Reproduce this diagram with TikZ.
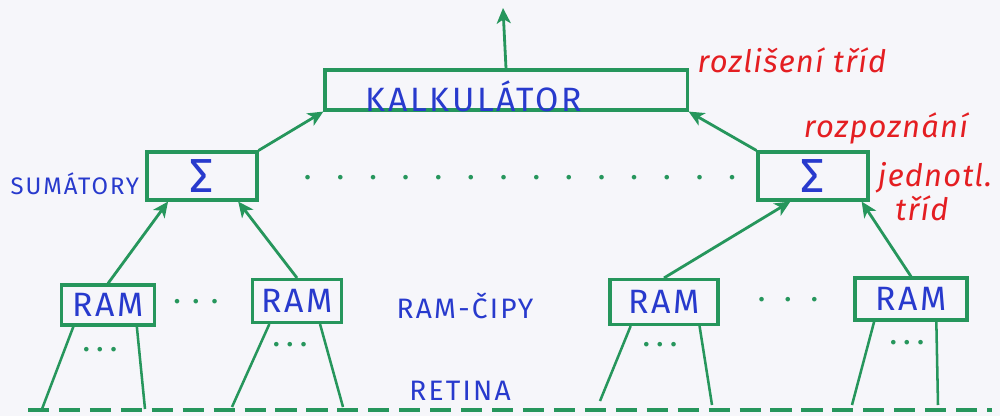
\documentclass[tikz,border=0pt]{standalone}
\usepackage{fontspec}
\setmainfont{Fira Sans}
\newfontfamily\caps[LetterSpace=8]{Fira Sans}
\newfontfamily\script[LetterSpace=4]{Fira Sans Italic}
\usetikzlibrary{calc,arrows.meta}
\definecolor{pen}{RGB}{38,150,92}
\definecolor{ink}{RGB}{40,58,205}
\definecolor{note}{RGB}{228,30,34}
\definecolor{paper}{RGB}{246,246,250}
\begin{document}
\begin{tikzpicture}[x=0.025cm,y=-0.025cm,
  box/.style={draw=pen,line width=2.2pt,inner sep=0pt},
  arr/.style={draw=pen,line width=2pt,-{Stealth[length=11pt,width=10pt,inset=3pt]}},
  wire/.style={draw=pen,line width=1.8pt},
  lbl/.style={text=ink,font=\caps\fontsize{17}{17}\selectfont},
  mid/.style={text=ink,font=\caps\fontsize{20}{20}\selectfont},
  big/.style={text=ink,font=\caps\fontsize{24}{24}\selectfont},
  sig/.style={text=ink,font=\fontsize{34}{34}\selectfont},
  rednote/.style={text=note,font=\script\fontsize{22}{22}\selectfont},
  dots/.style={text=pen,font=\bfseries\fontsize{18}{18}\selectfont}]
  % paper
  \fill[paper] (0,0) rectangle (1000,416);
  \useasboundingbox (0,0) rectangle (1000,416);

  % calculator and output
  \node[box,minimum width=9.05cm,minimum height=1cm] (kal) at (506,90) {};
  \node[big] (kaltext) at (474,96) {KALKULÁTOR};
  \coordinate (out) at (503,8);
  \draw[arr] (kal.north) -- (out);
  \node[rednote] (n1) at (792,60) {rozlišení tříd};

  % summators
  \node[box,sig,minimum width=2.75cm,minimum height=1.2cm] (s1) at (202,176) {Σ};
  \node[box,sig,minimum width=2.75cm,minimum height=1.2cm] (s2) at (813,176) {Σ};
  \node[lbl,anchor=east] (sum) at (144,184) {SUMÁTORY};
  \node[dots] (sdots) at (520,178) {.\hspace{1.05em}.\hspace{1.05em}.\hspace{1.05em}.\hspace{1.05em}.\hspace{1.05em}.\hspace{1.05em}.\hspace{1.05em}.\hspace{1.05em}.\hspace{1.05em}.\hspace{1.05em}.\hspace{1.05em}.\hspace{1.05em}.\hspace{1.05em}.};
  \node[rednote] (n2a) at (886,128) {rozpoznání};
  \node[rednote] (n2b) at (935,178) {jednotl.};
  \node[rednote] (n2c) at (922,208) {tříd};

  \draw[arr] (s1.north east) -- (kal.south west);
  \draw[arr] (s2.north west) -- (kal.south east);

  % RAM chips
  \node[box,big,minimum width=2.325cm,minimum height=1cm] (r1) at (108,305) {RAM};
  \node[box,big,minimum width=2.225cm,minimum height=1.075cm] (r2) at (297,301) {RAM};
  \node[box,big,minimum width=2.7cm,minimum height=1.125cm] (r3) at (664,302) {RAM};
  \node[box,big,minimum width=2.8cm,minimum height=1.05cm] (r4) at (911,299) {RAM};
  \node[dots] (rd1) at (196,302) {.\hspace{0.5em}.\hspace{0.5em}.};
  \node[dots] (rd2) at (788,300) {.\hspace{0.8em}.\hspace{0.8em}.};
  \node[mid] (chips) at (465,306) {RAM-ČIPY};

  \draw[arr] (r1.north) -- ($(s1.south west)!0.2!(s1.south east)$);
  \draw[arr] (r2.north) -- ($(s1.south west)!0.82!(s1.south east)$);
  \draw[arr] (r3.north) -- ($(s2.south west)!0.3!(s2.south east)$);
  \draw[arr] (r4.north) -- ($(s2.south west)!0.93!(s2.south east)$);

  % retina
  \coordinate (retL) at (28,410);
  \coordinate (retR) at (992,410);
  \draw[pen,line width=2.8pt,dash pattern=on 15pt off 7pt] (retL) -- (retR);
  \node[mid] (ret) at (460,391) {RETINA};

  \coordinate (a1) at (42,409);  \coordinate (b1) at (145,409);
  \coordinate (a2) at (232,407); \coordinate (b2) at (343,407);
  \coordinate (a3) at (600,401); \coordinate (b3) at (712,405);
  \coordinate (a4) at (852,405); \coordinate (b4) at (938,405);
  \draw[wire] ($(r1.south west)!0.14!(r1.south east)$) -- (a1);
  \draw[wire] ($(r1.south west)!0.8!(r1.south east)$) -- (b1);
  \draw[wire] ($(r2.south west)!0.2!(r2.south east)$) -- (a2);
  \draw[wire] ($(r2.south west)!0.75!(r2.south east)$) -- (b2);
  \draw[wire] ($(r3.south west)!0.2!(r3.south east)$) -- (a3);
  \draw[wire] ($(r3.south west)!0.82!(r3.south east)$) -- (b3);
  \draw[wire] ($(r4.south west)!0.18!(r4.south east)$) -- (a4);
  \draw[wire] ($(r4.south west)!0.72!(r4.south east)$) -- (b4);
  \node[dots] (w1) at (100,350) {.\hspace{0.3em}.\hspace{0.3em}.};
  \node[dots] (w2) at (290,345) {.\hspace{0.3em}.\hspace{0.3em}.};
  \node[dots] (w3) at (660,345) {.\hspace{0.3em}.\hspace{0.3em}.};
  \node[dots] (w4) at (907,343) {.\hspace{0.3em}.\hspace{0.3em}.};
\end{tikzpicture}
\end{document}
